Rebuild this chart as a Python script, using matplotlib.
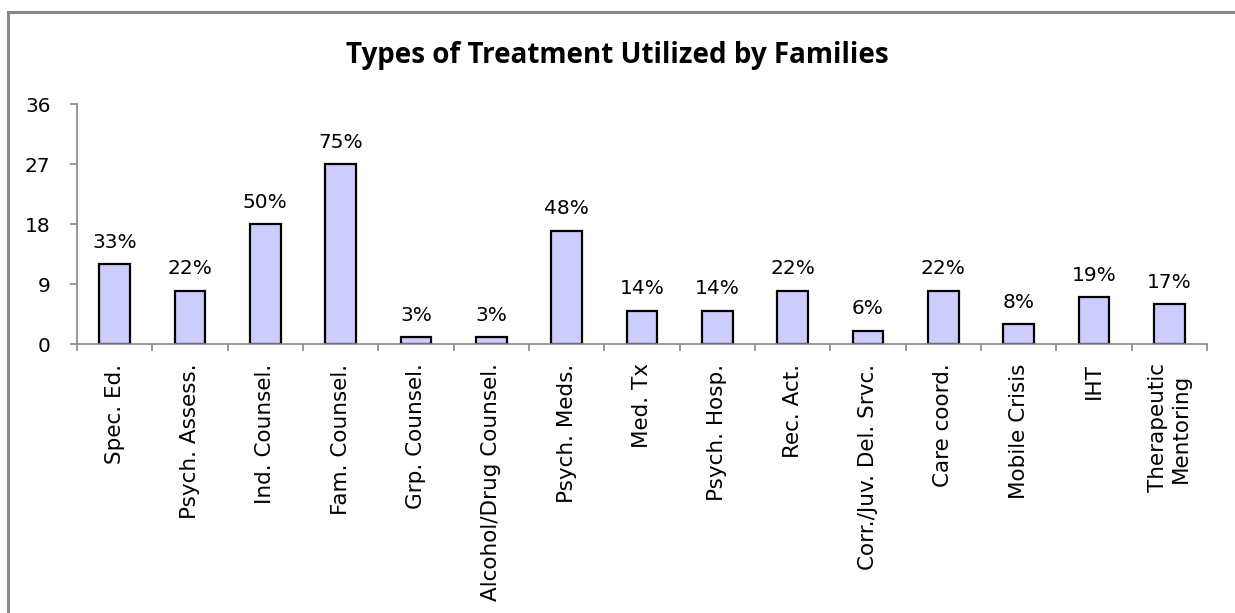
import matplotlib
matplotlib.use('Agg')
import matplotlib.pyplot as plt
from matplotlib.patches import Rectangle

# Chart data
categories = ['Spec. Ed.', 'Psych. Assess.', 'Ind. Counsel.', 'Fam. Counsel.',
              'Grp. Counsel.', 'Alcohol/Drug Counsel.', 'Psych. Meds.', 'Med. Tx',
              'Psych. Hosp.', 'Rec. Act.', 'Corr./Juv. Del. Srvc.', 'Care coord.',
              'Mobile Crisis', 'IHT', 'Therapeutic\nMentoring']
counts = [12, 8, 18, 27, 1, 1, 17, 5, 5, 8, 2, 8, 3, 7, 6]
pct_labels = ['33%', '22%', '50%', '75%', '3%', '3%', '48%', '14%', '14%',
              '22%', '6%', '22%', '8%', '19%', '17%']
y_ticks = [0, 9, 18, 27, 36]

W, H = 1235, 613
fig = plt.figure(figsize=(W / 100, H / 100), dpi=100)

# Outer chart border (runs off the right/bottom edges like the reference)
fig.patches.append(Rectangle((8 / W, -0.2), 1.2, 1.2 - 12 / H, transform=fig.transFigure,
                             fill=False, edgecolor='#888888', linewidth=2.2))

ax = fig.add_axes([77 / W, 1 - 344 / H, (1207 - 77) / W, (344 - 104) / H])

x = range(len(categories))
ax.bar(x, counts, width=0.41, color='#CCCCFF', edgecolor='black', linewidth=1.6)

for i, (c, lab) in enumerate(zip(counts, pct_labels)):
    ax.annotate(lab, (i, c), xytext=(0, 9), textcoords='offset points',
                ha='center', va='bottom', fontsize=14.5, family='DejaVu Sans')

ax.set_xlim(-0.5, len(categories) - 0.5)
ax.set_ylim(0, 36)
ax.set_yticks(y_ticks)
ax.set_yticklabels([str(t) for t in y_ticks], fontsize=14.5, family='DejaVu Sans')

# Category labels centred under bars, tick marks between categories
ax.set_xticks([i - 0.5 for i in range(len(categories) + 1)])
ax.set_xticklabels([])
ax.set_xticks(list(x), minor=True)
ax.set_xticklabels(categories, minor=True, rotation=90, fontsize=15.5, family='DejaVu Sans',
                   va='top', ha='center', linespacing=1.2)
ax.tick_params(axis='x', which='minor', length=0, pad=14)
ax.tick_params(axis='x', which='major', length=5, color='#888888', width=1.2)
ax.tick_params(axis='y', length=5, color='#888888', width=1.2, pad=14)

for side in ['top', 'right']:
    ax.spines[side].set_visible(False)
for side in ['left', 'bottom']:
    ax.spines[side].set_color('#888888')
    ax.spines[side].set_linewidth(1.2)

fig.text(617 / W, 1 - 55 / H, 'Types of Treatment Utilized by Families',
         ha='center', va='center', fontsize=20, fontweight='bold', family='Open Sans')

fig.savefig('out.png', dpi=100)
